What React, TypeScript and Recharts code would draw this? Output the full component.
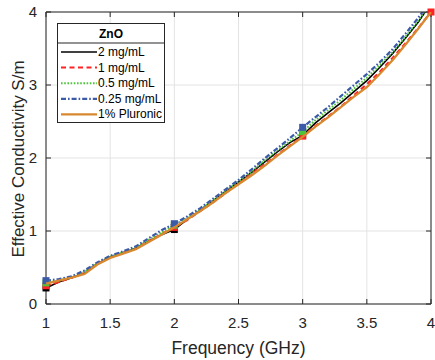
import React from 'react';
import { LineChart, Line, XAxis, YAxis, CartesianGrid, Legend, Scatter } from 'recharts';

const freq = [1, 1.1, 1.2, 1.3, 1.4, 1.5, 1.6, 1.7, 1.8, 1.9, 2, 2.1, 2.2, 2.3, 2.4, 2.5, 2.6, 2.7, 2.8, 2.9, 3, 3.1, 3.2, 3.3, 3.4, 3.5, 3.6, 3.7, 3.8, 3.9, 4];
const conc2 = [0.22, 0.30, 0.36, 0.42, 0.55, 0.64, 0.70, 0.76, 0.86, 0.95, 1.02, 1.16, 1.28, 1.41, 1.54, 1.67, 1.80, 1.94, 2.08, 2.21, 2.31, 2.48, 2.62, 2.76, 2.91, 3.06, 3.24, 3.43, 3.64, 3.86, 4.12];
const conc1 = [0.25, 0.30, 0.36, 0.43, 0.55, 0.64, 0.70, 0.76, 0.86, 0.96, 1.05, 1.15, 1.27, 1.39, 1.52, 1.65, 1.78, 1.91, 2.04, 2.17, 2.30, 2.44, 2.57, 2.71, 2.86, 3.01, 3.18, 3.37, 3.57, 3.78, 4.0];
const conc05 = [0.29, 0.32, 0.37, 0.44, 0.56, 0.65, 0.71, 0.77, 0.88, 0.98, 1.08, 1.18, 1.29, 1.42, 1.55, 1.68, 1.81, 1.96, 2.10, 2.23, 2.36, 2.52, 2.66, 2.80, 2.95, 3.10, 3.27, 3.45, 3.66, 3.88, 4.13];
const conc025 = [0.32, 0.34, 0.38, 0.46, 0.57, 0.66, 0.72, 0.79, 0.90, 1.01, 1.10, 1.20, 1.31, 1.44, 1.57, 1.70, 1.84, 1.99, 2.13, 2.27, 2.42, 2.56, 2.70, 2.85, 3.00, 3.15, 3.31, 3.49, 3.70, 3.92, 4.16];
const pluronic = [0.28, 0.32, 0.36, 0.41, 0.54, 0.63, 0.69, 0.75, 0.85, 0.95, 1.05, 1.16, 1.27, 1.39, 1.52, 1.64, 1.76, 1.89, 2.03, 2.16, 2.29, 2.43, 2.56, 2.70, 2.84, 2.97, 3.15, 3.34, 3.55, 3.77, 4.0];

const seriesNames = ['2 mg/mL', '1 mg/mL', '0.5 mg/mL', '0.25 mg/mL', '1% Pluronic'];
const xTicks = [1, 1.5, 2, 2.5, 3, 3.5, 4];
const yTicks = [0, 1, 2, 3, 4];
const legendTitle = 'ZnO';
const xLabel = 'Frequency (GHz)';
const yLabel = 'Effective Conductivity S/m';

const FONT = '"Liberation Sans", Arial, Helvetica, sans-serif';
const AXIS = '#262626';

const SERIES = [
  { key: 's2', name: seriesNames[0], values: conc2, color: '#000000', dash: undefined as string | undefined, width: 1.6, marker: true },
  { key: 's1', name: seriesNames[1], values: conc1, color: '#ff2222', dash: '5 3.5', width: 2, marker: true },
  { key: 's05', name: seriesNames[2], values: conc05, color: '#4cc43a', dash: '1.6 1.6', width: 2, marker: true },
  { key: 's025', name: seriesNames[3], values: conc025, color: '#3b5ba8', dash: '5 2 1.6 2', width: 2.2, marker: true },
  { key: 'plu', name: seriesNames[4], values: pluronic, color: '#d8882e', dash: undefined as string | undefined, width: 2.3, marker: false },
];

const rows = freq.map((f, i) => {
  const r: Record<string, number> = { f };
  SERIES.forEach((s) => { r[s.key] = s.values[i]; });
  return r;
});

const markerData = (values: number[]) =>
  freq.map((f, i) => ({ f, v: values[i] })).filter((p) => Number.isInteger(p.f) && p.v <= 4);

const YAxisLabel = (props: any) => {
  const { x, y, height } = props.viewBox;
  return (
    <text transform={`translate(${x + 18.5}, ${y + height / 2 + 1}) rotate(-90)`} textAnchor="middle"
      dominantBaseline="central" fontSize={17} fill={AXIS} fontFamily={FONT}>{yLabel}</text>
  );
};

const XAxisLabel = (props: any) => {
  const { x, y, width } = props.viewBox;
  return (
    <text x={x + width / 2} y={y + 49.5} textAnchor="middle" fontSize={17.5} fill={AXIS} fontFamily={FONT}>{xLabel}</text>
  );
};

const renderLegend = () => (
  <svg width={108} height={100} style={{ display: 'block' }}>
    <rect x={0.5} y={0.5} width={107} height={99} fill="#ffffff" stroke={AXIS} strokeWidth={1} />
    <text x={54} y={14.5} textAnchor="middle" fontWeight="bold" fontSize={12} fontFamily={FONT} fill="#000">{legendTitle}</text>
    <line x1={0.5} x2={107.5} y1={20} y2={20} stroke={AXIS} strokeWidth={1} />
    {SERIES.map((s, i) => {
      const yy = 29 + i * 15.6;
      return (
        <g key={s.key}>
          <line x1={4} x2={40} y1={yy} y2={yy} stroke={s.color} strokeWidth={s.width} strokeDasharray={s.dash} />
          <text x={41} y={yy} dominantBaseline="central" fontSize={12} fontFamily={FONT} fill="#000">{s.name}</text>
        </g>
      );
    })}
  </svg>
);

const noTick = () => <g />;

export default function App() {
  return (
    <div style={{ position: 'absolute', left: 0, top: 0, background: '#fff' }}>
      <LineChart width={435} height={360} data={rows} margin={{ top: 11, right: 3, bottom: 0, left: 0 }}>
        <CartesianGrid stroke="#e3e3e3" strokeWidth={1} />
        <XAxis dataKey="f" type="number" domain={[1, 4]} ticks={xTicks} height={56}
          tickSize={-5} tickMargin={18} stroke={AXIS}
          tick={{ fill: AXIS, fontSize: 15, fontFamily: FONT }}
          label={<XAxisLabel />} />
        <XAxis xAxisId="top" orientation="top" dataKey="f" type="number" domain={[1, 4]} ticks={xTicks}
          height={1} tickSize={-5} stroke={AXIS} tick={noTick} />
        <YAxis type="number" domain={[0, 4]} ticks={yTicks} width={46} allowDataOverflow
          tickSize={-5} tickMargin={14} stroke={AXIS}
          tick={{ fill: AXIS, fontSize: 15, fontFamily: FONT }}
          label={<YAxisLabel />} />
        <YAxis yAxisId="right" orientation="right" dataKey="v" type="number" domain={[0, 4]} ticks={yTicks}
          width={1} tickSize={-5} stroke={AXIS} tick={noTick} />
        <Legend layout="horizontal" verticalAlign="middle" align="center" content={renderLegend}
          wrapperStyle={{ position: 'absolute', left: 57, top: 23, width: 108, height: 100 }} />
        {SERIES.filter((s) => s.key !== 'plu').map((s) => (
          <Line key={s.key} dataKey={s.key} name={s.name} type="linear" stroke={s.color} strokeWidth={s.width}
            strokeDasharray={s.dash} dot={false} activeDot={false} isAnimationActive={false} />
        ))}
        {SERIES.filter((s) => s.marker).map((s) => (
          <Scatter key={'m' + s.key} data={markerData(s.values)} yAxisId="right" isAnimationActive={false}
            shape={(p: any) => <rect x={p.cx - 3.5} y={p.cy - 3.5} width={7} height={7} fill={s.color} />} />
        ))}
        <Line dataKey="plu" name={seriesNames[4]} type="linear" stroke={SERIES[4].color} strokeWidth={2.3}
          dot={false} activeDot={false} isAnimationActive={false} zIndex={700} />
      </LineChart>
    </div>
  );
}
